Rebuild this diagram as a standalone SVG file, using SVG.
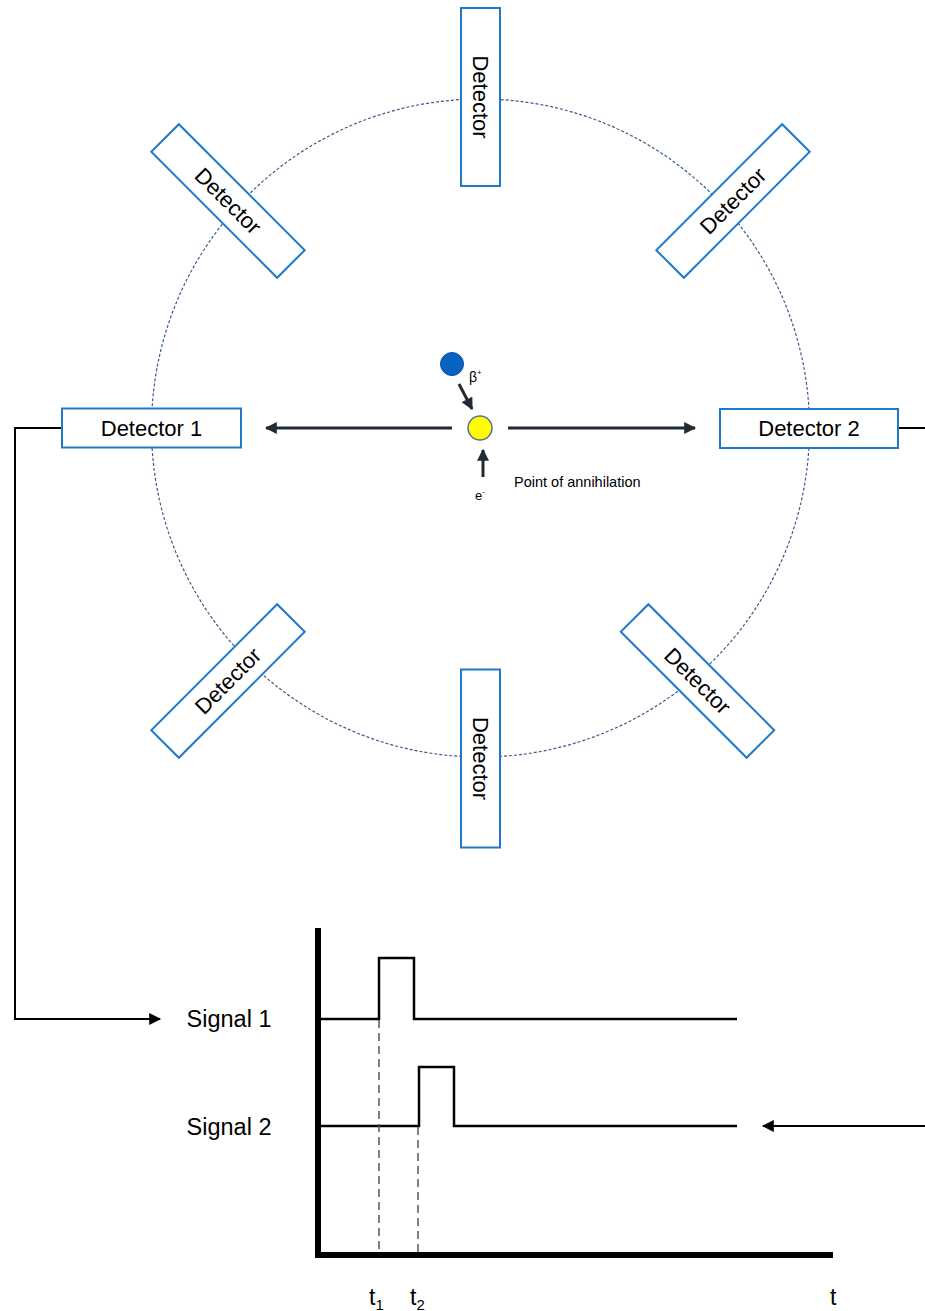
<svg xmlns="http://www.w3.org/2000/svg" width="925" height="1311" viewBox="0 0 925 1311">
<style>
  .det { fill: #ffffff; stroke: #1f78c8; stroke-width: 2; }
  .lbl { font-family: "Liberation Sans", Arial, sans-serif; fill: #000; }
  .dl { font-size: 22px; text-anchor: middle; dominant-baseline: central; }
  .ray { stroke: #222a35; stroke-width: 3; fill: none; }
  .wire { stroke: #000; stroke-width: 2; fill: none; }
  .sig { stroke: #000; stroke-width: 2.5; fill: none; }
  .axis { stroke: #000; stroke-width: 6; fill: none; }
  .dash { stroke: #555; stroke-width: 1.5; stroke-dasharray: 8 5; fill: none; }
</style>
<defs>
  <marker id="rayhead" viewBox="0 0 10 10" refX="9" refY="5" markerWidth="4.2" markerHeight="4" orient="auto">
    <path d="M0,0 L10,5 L0,10 z" fill="#222a35"/>
  </marker>
  <marker id="wirehead" viewBox="0 0 10 10" refX="9" refY="5" markerWidth="15" markerHeight="12" markerUnits="userSpaceOnUse" orient="auto">
    <path d="M0,0 L10,5 L0,10 z" fill="#000"/>
  </marker>
</defs>

<!-- detector ring -->
<circle cx="480.5" cy="428" r="329" fill="none" stroke="#3d5a8a" stroke-width="1.2" stroke-dasharray="3 2"/>

<!-- connectors -->
<g id="connectors">
  <line class="ray" x1="452" y1="428" x2="266" y2="428" marker-end="url(#rayhead)"/>
  <line class="ray" x1="508" y1="428" x2="695" y2="428" marker-end="url(#rayhead)"/>
  <line class="ray" x1="459" y1="384" x2="472" y2="409" marker-end="url(#rayhead)"/>
  <line class="ray" x1="483" y1="477" x2="483" y2="450" marker-end="url(#rayhead)"/>
  <polyline class="wire" points="62,428 15,428 15,1019 160,1019" marker-end="url(#wirehead)"/>
  <line class="wire" x1="898" y1="428" x2="925" y2="428"/>
  <line class="wire" x1="925" y1="1126" x2="763" y2="1126" marker-end="url(#wirehead)"/>
</g>

<!-- detectors -->
<g id="det-top" transform="translate(480.5,97)">
  <rect class="det" x="-19.5" y="-89" width="39" height="178"/>
  <text class="lbl dl" transform="rotate(90)">Detector</text>
</g>
<g id="det-bottom" transform="translate(480.5,758.5)">
  <rect class="det" x="-19.5" y="-89" width="39" height="178"/>
  <text class="lbl dl" transform="rotate(90)">Detector</text>
</g>
<g id="det-1" transform="translate(151.5,428)">
  <rect class="det" x="-89.5" y="-19.5" width="179" height="39"/>
  <text class="lbl dl">Detector 1</text>
</g>
<g id="det-2" transform="translate(809,428.5)">
  <rect class="det" x="-89" y="-19.5" width="178" height="39"/>
  <text class="lbl dl">Detector 2</text>
</g>
<g id="det-top-left" transform="translate(228,201) rotate(45)">
  <rect class="det" x="-89" y="-19.5" width="178" height="39"/>
  <text class="lbl dl">Detector</text>
</g>
<g id="det-top-right" transform="translate(733,201) rotate(-45)">
  <rect class="det" x="-89" y="-19.5" width="178" height="39"/>
  <text class="lbl dl">Detector</text>
</g>
<g id="det-bottom-left" transform="translate(228,681) rotate(-45)">
  <rect class="det" x="-89" y="-19.5" width="178" height="39"/>
  <text class="lbl dl">Detector</text>
</g>
<g id="det-bottom-right" transform="translate(697.5,681) rotate(45)">
  <rect class="det" x="-89" y="-19.5" width="178" height="39"/>
  <text class="lbl dl">Detector</text>
</g>

<!-- particles -->
<g id="positron">
  <circle cx="452" cy="364" r="11.5" fill="#0a63c0" stroke="#0a50a0" stroke-width="1"/>
  <text class="lbl" x="469" y="382" font-size="14">β<tspan font-size="8" dy="-7">+</tspan></text>
</g>
<g id="annihilation">
  <circle cx="480" cy="428" r="12" fill="#ffff00" stroke="#5a6e96" stroke-width="1.5"/>
  <text class="lbl" x="514" y="487" font-size="14.5">Point of annihilation</text>
</g>
<g id="electron">
  <text class="lbl" x="475" y="500" font-size="13">e<tspan font-size="8" dy="-6">-</tspan></text>
</g>

<!-- timing chart -->
<g id="chart">
  <polyline class="axis" points="318,928 318,1255 833,1255"/>
  <polyline class="sig" points="320,1019 379,1019 379,958 414,958 414,1019 737,1019"/>
  <polyline class="sig" points="320,1126 419,1126 419,1067 454,1067 454,1126 737,1126"/>
  <line class="dash" x1="379" y1="1020" x2="379" y2="1252"/>
  <line class="dash" x1="418" y1="1127" x2="418" y2="1252"/>
  <text class="lbl" x="229" y="1027" font-size="23.5" text-anchor="middle">Signal 1</text>
  <text class="lbl" x="229" y="1135" font-size="23.5" text-anchor="middle">Signal 2</text>
  <text class="lbl" x="369" y="1305" font-size="23">t<tspan font-size="15" dy="5">1</tspan></text>
  <text class="lbl" x="410" y="1305" font-size="23">t<tspan font-size="15" dy="5">2</tspan></text>
  <text class="lbl" x="830" y="1305" font-size="23">t</text>
</g>
</svg>
